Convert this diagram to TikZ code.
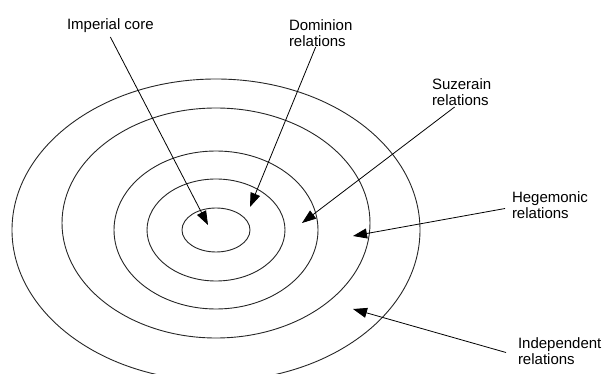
\documentclass[tikz,border=0pt]{standalone}
\usepackage{fontspec}
\setmainfont{Liberation Sans}
\usetikzlibrary{arrows.meta, positioning}

\begin{document}
\begin{tikzpicture}[
  x=1pt, y=-1pt,
  ring/.style={draw=black!85, line width=0.9pt},
  lbl/.style={anchor=north west, inner sep=0pt, outer sep=0pt, align=left,
              font=\fontsize{15}{16}\selectfont},
  arr/.style={-{Triangle[length=14pt, width=10pt]}, line width=0.8pt}
]
\useasboundingbox (0,0) rectangle (603,374);

% rings
\coordinate (c) at (216,230);
\draw[ring] (c) ellipse [x radius=34pt, y radius=22pt];
\draw[ring] (c) ellipse [x radius=69pt, y radius=51pt];
\draw[ring] (c) ellipse [x radius=102pt, y radius=79pt];
\draw[ring] (216,223) ellipse [x radius=154pt, y radius=115pt];
\draw[ring] (c) ellipse [x radius=204pt, y radius=151pt];

% labels
\node[lbl] (core) at (67,19) {Imperial core};
\node[lbl] (dom) at (289,20) {Dominion\\relations};
\node[lbl] (suz) at (432,79) {Suzerain\\relations};
\node[lbl] (heg) at (512,192) {Hegemonic\\relations};
\node[lbl] (ind) at (518,338) {Independent\\relations};

% arrow tips
\coordinate (t1) at (208,225);
\coordinate (t2) at (250,207);
\coordinate (t3) at (302,223);
\coordinate (t4) at (353,236);
\coordinate (t5) at (353,309);

\draw[arr] ([xshift=0pt,yshift=-4pt]core.south) -- (t1);
\draw[arr] ([xshift=-5pt]dom.south) -- (t2);
\draw[arr] ([xshift=-7pt,yshift=-1pt]suz.south) -- (t3);
\draw[arr] ([xshift=-7pt,yshift=-3pt]heg.west) -- (t4);
\draw[arr] ([xshift=-12pt,yshift=-1pt]ind.west) -- (t5);
\end{tikzpicture}
\end{document}
